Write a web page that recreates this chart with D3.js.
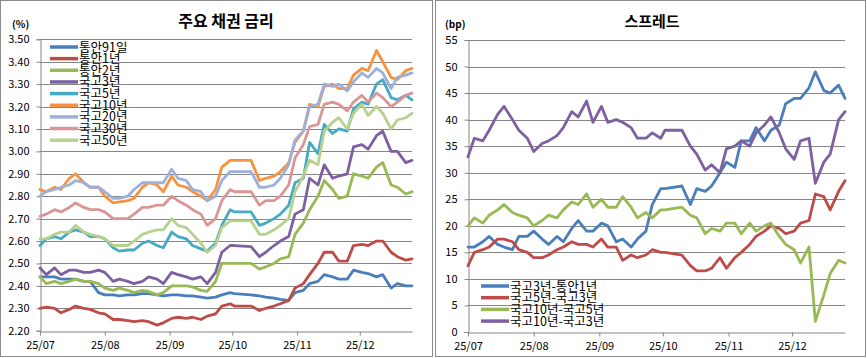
<!DOCTYPE html>
<html><head><meta charset="utf-8">
<script src="https://cdn.jsdelivr.net/npm/d3@7"></script>
<style>
body{margin:0;background:#fff}
svg{display:block}
text{font-family:"Noto Sans CJK KR","Noto Sans",sans-serif;fill:#000}
</style>
</head><body>
<svg id="c" width="867" height="358"></svg>
<script>
// ---------- data ----------
const dates = ["2025-07-01","2025-07-04","2025-07-08","2025-07-11","2025-07-15","2025-07-18","2025-07-22","2025-07-25","2025-07-29",
"2025-08-01","2025-08-05","2025-08-08","2025-08-12","2025-08-15","2025-08-19","2025-08-22","2025-08-26","2025-08-29",
"2025-09-02","2025-09-05","2025-09-09","2025-09-12","2025-09-16","2025-09-19","2025-09-23","2025-09-26","2025-09-30",
"2025-10-02","2025-10-10","2025-10-14","2025-10-17","2025-10-21","2025-10-24","2025-10-28","2025-10-31",
"2025-11-04","2025-11-07","2025-11-11","2025-11-14","2025-11-18","2025-11-21","2025-11-25","2025-11-28",
"2025-12-02","2025-12-05","2025-12-09","2025-12-12","2025-12-16","2025-12-19","2025-12-23","2025-12-26"];

const monthTicks = ["2025-07-01","2025-08-01","2025-09-01","2025-10-01","2025-11-01","2025-12-01"];
const monthLabels = ["25/07","25/08","25/09","25/10","25/11","25/12"];
const xStart = "2025-07-01", xEnd = "2025-12-26";

const rateNames = ["통안91일","통안1년","통안2년","국고3년","국고5년","국고10년","국고20년","국고30년","국고50년"];
const rateTicks = [2.20,2.30,2.40,2.50,2.60,2.70,2.80,2.90,3.00,3.10,3.20,3.30,3.40,3.50];

const msb91d = [2.44,2.44,2.44,2.43,2.43,2.43,2.42,2.42,2.37,
2.36,2.36,2.355,2.36,2.36,2.365,2.365,2.36,2.355,
2.36,2.36,2.355,2.355,2.35,2.345,2.35,2.36,2.37,
2.365,2.36,2.355,2.35,2.345,2.34,2.335,2.37,
2.38,2.41,2.42,2.45,2.44,2.43,2.43,2.47,
2.46,2.455,2.44,2.45,2.39,2.41,2.40,2.40];
const msb1y = [2.30,2.305,2.30,2.28,2.295,2.31,2.30,2.295,2.28,
2.275,2.25,2.25,2.245,2.24,2.245,2.24,2.225,2.235,
2.255,2.26,2.255,2.26,2.25,2.265,2.275,2.31,2.32,
2.31,2.31,2.29,2.30,2.31,2.32,2.335,2.39,
2.41,2.45,2.50,2.55,2.55,2.51,2.51,2.58,
2.585,2.58,2.60,2.60,2.55,2.53,2.515,2.52];
const msb2y = [2.44,2.41,2.42,2.41,2.42,2.43,2.42,2.42,2.41,
2.39,2.38,2.39,2.38,2.37,2.38,2.375,2.36,2.37,
2.40,2.40,2.40,2.395,2.38,2.375,2.42,2.50,2.50,
2.50,2.50,2.475,2.485,2.50,2.52,2.53,2.63,
2.68,2.74,2.80,2.87,2.83,2.79,2.80,2.90,
2.89,2.88,2.93,2.95,2.85,2.84,2.81,2.82];
const ktb3y = [2.48,2.45,2.48,2.45,2.47,2.47,2.46,2.46,2.47,
2.46,2.42,2.43,2.42,2.41,2.42,2.44,2.43,2.41,
2.46,2.45,2.44,2.43,2.44,2.41,2.46,2.55,2.58,
2.58,2.575,2.53,2.55,2.58,2.60,2.62,2.72,
2.74,2.88,2.85,2.94,2.88,2.89,2.90,3.02,
3.03,3.01,3.07,3.09,3.00,3.00,2.95,2.96];
const ktb5y = [2.58,2.61,2.62,2.61,2.64,2.65,2.64,2.62,2.62,
2.61,2.57,2.555,2.56,2.56,2.59,2.60,2.58,2.57,
2.64,2.62,2.61,2.58,2.565,2.555,2.59,2.67,2.74,
2.73,2.73,2.67,2.68,2.70,2.72,2.76,2.86,
2.88,3.04,2.99,3.12,3.08,3.10,3.09,3.19,
3.22,3.21,3.30,3.32,3.24,3.23,3.25,3.23];
const ktb10y = [2.83,2.82,2.84,2.83,2.88,2.90,2.86,2.84,2.84,
2.80,2.77,2.775,2.78,2.79,2.84,2.86,2.85,2.82,
2.89,2.85,2.84,2.82,2.80,2.78,2.83,2.93,2.96,
2.96,2.96,2.87,2.88,2.89,2.91,2.95,3.04,
3.09,3.21,3.20,3.29,3.30,3.28,3.28,3.34,
3.37,3.36,3.45,3.40,3.33,3.32,3.36,3.37];
const ktb20y = [2.80,2.82,2.83,2.84,2.85,2.87,2.86,2.84,2.84,
2.82,2.79,2.79,2.80,2.83,2.86,2.86,2.86,2.86,
2.92,2.88,2.87,2.83,2.82,2.78,2.80,2.87,2.91,
2.91,2.91,2.84,2.84,2.85,2.88,2.94,3.05,
3.09,3.20,3.21,3.30,3.29,3.30,3.27,3.31,
3.35,3.33,3.37,3.35,3.28,3.33,3.34,3.35];
const ktb30y = [2.71,2.72,2.74,2.73,2.75,2.77,2.75,2.74,2.74,
2.73,2.70,2.70,2.70,2.72,2.75,2.75,2.76,2.76,
2.80,2.78,2.76,2.74,2.72,2.67,2.70,2.78,2.83,
2.82,2.82,2.76,2.78,2.78,2.80,2.85,2.97,
3.03,3.11,3.12,3.21,3.22,3.21,3.18,3.22,
3.25,3.22,3.26,3.24,3.20,3.22,3.25,3.26];
const ktb50y = [2.61,2.61,2.63,2.64,2.64,2.67,2.64,2.63,2.62,
2.61,2.58,2.58,2.58,2.60,2.63,2.64,2.65,2.65,
2.70,2.67,2.66,2.63,2.59,2.55,2.58,2.66,2.69,
2.69,2.69,2.63,2.63,2.65,2.67,2.70,2.82,
2.89,2.96,2.94,3.09,3.13,3.15,3.10,3.17,
3.21,3.16,3.20,3.17,3.10,3.14,3.15,3.17];

const spreadNames = ["국고3년-통안1년","국고5년-국고3년","국고10년-국고5년","국고10년-국고3년"];
const spreadTicks = [0,5,10,15,20,25,30,35,40,45,50,55];

const sp3y1y = [16,16,17,18,16.5,16,15.5,18,18,
19,17.5,16.5,18,17,19.5,21,19,19,
20.5,20,17,17.5,16,17.5,19,24,27,
27,27.5,24,27,26.5,27.5,30,32,
31,36,36,38.5,36,38,39,43,
44,44,46,49,45.5,45,46.5,44];
const sp5y3y = [12.5,15,15.5,16,17.5,17.5,17,15.5,15,
14,14,14.5,15.5,16,17,16.5,16.5,16,
17.5,16,16,13.5,14.5,14,14.5,15.5,15,
15,14.5,12.5,11.5,11.5,12,14,12,
14,15,16.5,18,19,20,19.5,18.5,
19,20.5,21,26,25.5,23,26.5,28.5];
const sp10y5y = [20,21.5,20.5,22,23,24,22.5,22,21.5,
20,21,22,21.5,23,24.5,24,26,23.5,
25,23.5,23.5,25.5,23.5,21.5,22.5,21.5,23,
23,23.5,22,21.5,18.5,19.5,19,20.5,
20.5,18.5,20.5,19,20,20.5,18,16.5,
15.5,13,16,2,7,11,13.5,13];
const sp10y3y = [33,36.5,36,38,41,42.5,40,38,36.5,
34,35.5,36,37,38.5,41.5,40.5,43.5,39.5,
42.5,39.5,40,39.5,38.5,36.5,36.5,37.5,36.5,
38,38,35,33.5,30.5,31.5,30,34.5,
35,36,35,37.5,39,40.5,37.5,34.5,
32.5,36,36.5,28,32,33.5,40,41.5];

const rateColors = ["#4A7EBB","#BE4B48","#98B954","#7D60A0","#46AAC5","#F69240","#9BB1DC","#DA9694","#B9D18E"];
const spreadColors = ["#4A7EBB","#BE4B48","#98B954","#7D60A0"];

// ---------- drawing ----------
const parse = d3.timeParse("%Y-%m-%d");
const dts = dates.map(parse);
const svg = d3.select("#c");
const gridCol = "#868686";

// panel frames
svg.append("rect").attr("x",0.5).attr("y",0.5).attr("width",432).attr("height",356)
  .attr("fill","none").attr("stroke","#8c8c8c");
svg.append("rect").attr("x",435.5).attr("y",0.5).attr("width",430).attr("height",356)
  .attr("fill","none").attr("stroke","#8c8c8c");

function panel(o){
  const x = d3.scaleTime().domain([parse(xStart), parse(xEnd)]).range([o.left, o.right]);
  const y = d3.scaleLinear().domain(o.domain).range([o.bottom, o.top]);
  const g = svg.append("g");

  // gridlines
  g.append("g").selectAll("line").data(o.ticks.filter(t=>t!==o.domain[0])).join("line")
    .attr("x1",o.left).attr("x2",o.right)
    .attr("y1",d=>Math.round(y(d))+0.5).attr("y2",d=>Math.round(y(d))+0.5)
    .attr("stroke",gridCol).attr("stroke-width",1);

  // y axis
  const ya = g.append("g").attr("transform",`translate(${o.left+0.5},0)`)
    .call(d3.axisLeft(y).tickValues(o.ticks).tickFormat(o.fmt).tickSize(4).tickPadding(7));
  ya.select(".domain").attr("stroke",gridCol);
  ya.selectAll(".tick line").attr("stroke",gridCol);
  ya.selectAll("text").attr("font-size",11).style("font-family","'Noto Sans CJK KR',sans-serif");

  // x axis
  const xa = g.append("g").attr("transform",`translate(0,${Math.round(o.bottom)+0.5})`)
    .call(d3.axisBottom(x).tickValues(monthTicks.map(parse)).tickFormat((d,i)=>monthLabels[i]).tickSize(4).tickSizeOuter(0).tickPadding(6));
  xa.select(".domain").attr("stroke",gridCol);
  xa.selectAll(".tick line").attr("stroke",gridCol);
  xa.selectAll("text").attr("font-size",11).style("font-family","'Noto Sans CJK KR',sans-serif");

  // lines
  const line = d3.line().x((d,i)=>x(dts[i])).y(d=>y(d)).curve(d3.curveLinear);
  o.series.forEach((s,k)=>{
    g.append("path").datum(s).attr("fill","none").attr("stroke",o.colors[k])
      .attr("stroke-width",2.8).attr("stroke-linejoin","round").attr("stroke-linecap","round")
      .attr("d",line);
  });

  // legend
  const lg = g.append("g");
  o.names.forEach((n,k)=>{
    const cy = o.legY + k*o.legStep;
    lg.append("line").attr("x1",o.legX).attr("x2",o.legX+28).attr("y1",cy).attr("y2",cy)
      .attr("stroke",o.colors[k]).attr("stroke-width",3.5);
    lg.append("text").attr("x",o.legX+29).attr("y",cy+4.5).attr("font-size",12.5).text(n);
  });

  // title + unit
  svg.append("text").attr("x",o.titleX).attr("y",27).attr("text-anchor","middle")
    .attr("font-size",o.titleSize).attr("font-weight","bold").text(o.title);
  svg.append("text").attr("x",o.unitX).attr("y",28).attr("font-size",10).attr("font-weight","bold").text(o.unit);
}

panel({left:40,right:412,top:39.3,bottom:330.7,domain:[2.2,3.5],ticks:rateTicks,fmt:d3.format(".2f"),
  series:[msb91d,msb1y,msb2y,ktb3y,ktb5y,ktb10y,ktb20y,ktb30y,ktb50y],colors:rateColors,names:rateNames,
  legX:50,legY:47,legStep:11.65,title:"주요 채권 금리",titleX:226,titleSize:16,unit:"(%)",unitX:12});

panel({left:468,right:845,top:40,bottom:332,domain:[0,55],ticks:spreadTicks,fmt:d3.format("d"),
  series:[sp3y1y,sp5y3y,sp10y5y,sp10y3y],colors:spreadColors,names:spreadNames,
  legX:481,legY:286,legStep:11.7,title:"스프레드",titleX:652,titleSize:15,unit:"(bp)",unitX:445});
</script>
</body></html>
